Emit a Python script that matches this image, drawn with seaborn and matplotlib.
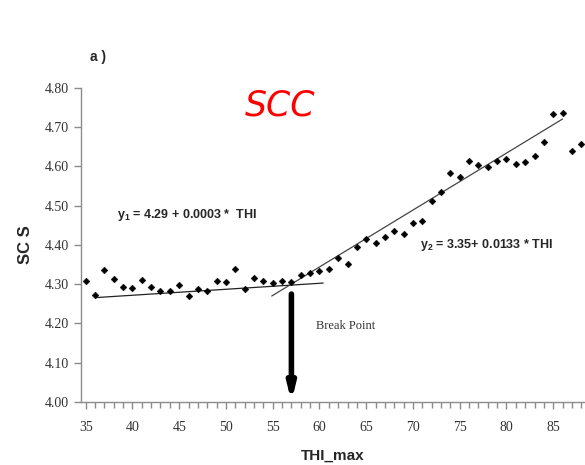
import numpy as np
import pandas as pd
import matplotlib
matplotlib.use("Agg")
import matplotlib.pyplot as plt
import seaborn as sns
from matplotlib.ticker import MultipleLocator

# data
thi = list(range(35, 89))
scs = [4.308, 4.273, 4.336, 4.313, 4.293, 4.290, 4.311, 4.293, 4.283, 4.283,
       4.298, 4.270, 4.288, 4.283, 4.308, 4.306, 4.339, 4.288, 4.316, 4.308,
       4.303, 4.308, 4.306, 4.324, 4.329, 4.334, 4.339, 4.367, 4.352, 4.395,
       4.415, 4.405, 4.420, 4.436, 4.428, 4.456, 4.461, 4.512, 4.535, 4.583,
       4.573, 4.614, 4.604, 4.599, 4.614, 4.619, 4.606, 4.611, 4.627, 4.662,
       4.734, 4.736, 4.639, 4.657]

# fitted segments as drawn
seg1_x = [36.1, 60.4]
seg1_y = [4.266, 4.303]
seg2_x = [54.9, 86.0]
seg2_y = [4.270, 4.721]

break_x = 57
break_top = 4.275

df = pd.DataFrame({"THI_max": thi, "SCS": scs})

sns.set_style("white")
plt.rcParams["font.family"] = ["Liberation Sans", "DejaVu Sans"]
plt.rcParams["mathtext.fontset"] = "custom"
plt.rcParams["mathtext.bf"] = "Liberation Sans:bold"
plt.rcParams["mathtext.rm"] = "Liberation Sans"

fig = plt.figure(figsize=(5.85, 4.65), dpi=100)
ax = fig.add_axes([0.1385, 0.1355, 0.8615, 0.6753])

sns.scatterplot(data=df, x="THI_max", y="SCS", marker="D", s=12,
                color="black", edgecolor="black", linewidth=0.3, ax=ax, zorder=3)
sns.lineplot(x=seg1_x, y=seg1_y, color="#222222", lw=0.9, ax=ax)
sns.lineplot(x=seg2_x, y=seg2_y, color="#444444", lw=0.9, ax=ax)

ax.annotate("", xy=(break_x, 4.0), xytext=(break_x, break_top),
            arrowprops=dict(arrowstyle="-|>,head_width=0.22,head_length=0.9",
                            lw=4, color="black", shrinkA=0, shrinkB=0))

ax.set_xlim(34.5, 88.4)
ax.set_ylim(4.0, 4.8)
ax.xaxis.set_major_locator(MultipleLocator(5))
ax.xaxis.set_minor_locator(MultipleLocator(1))
ax.yaxis.set_major_locator(MultipleLocator(0.1))
ax.yaxis.set_major_formatter(matplotlib.ticker.FormatStrFormatter("%.2f"))

for s in ["top", "right"]:
    ax.spines[s].set_visible(False)
for s in ["left", "bottom"]:
    ax.spines[s].set_color("#8c8c8c")
    ax.spines[s].set_linewidth(1.0)

ax.tick_params(axis="both", which="both", direction="out", color="#8c8c8c",
               labelcolor="#333333")
ax.tick_params(axis="y", length=5, width=1, left=True, pad=4)
ax.tick_params(axis="x", which="major", length=5, width=1, bottom=True, pad=9)
ax.tick_params(axis="x", which="minor", length=4, width=1, bottom=True)
for lab in ax.get_xticklabels() + ax.get_yticklabels():
    lab.set_fontfamily("Liberation Serif")
    lab.set_fontsize(10)

ax.set_xlabel("THI_max", fontsize=11, fontweight="bold", labelpad=10)
ax.set_ylabel("SC S", fontsize=12, fontweight="bold", labelpad=8)

ax.text(38.4, 4.476, r"$\mathbf{y_1}$ = 4.29 + 0.0003 *  THI", fontsize=9,
        fontweight="bold", va="center", ha="left")
ax.text(70.8, 4.40, r"$\mathbf{y_2}$ = 3.35+ 0.0133 * THI", fontsize=9,
        fontweight="bold", va="center", ha="left")
ax.text(59.65, 4.194, "Break Point", fontsize=9, va="center", ha="left",
        family="Liberation Serif", color="#333333")

fig.text(0.154, 0.877, "a )", fontsize=10, fontweight="bold", va="center",
         ha="left")
fig.text(0.479, 0.774, "SCC", fontsize=25, color="red", style="italic",
         va="center", ha="center", family="DejaVu Sans")

fig.savefig("out.png", dpi=100)
